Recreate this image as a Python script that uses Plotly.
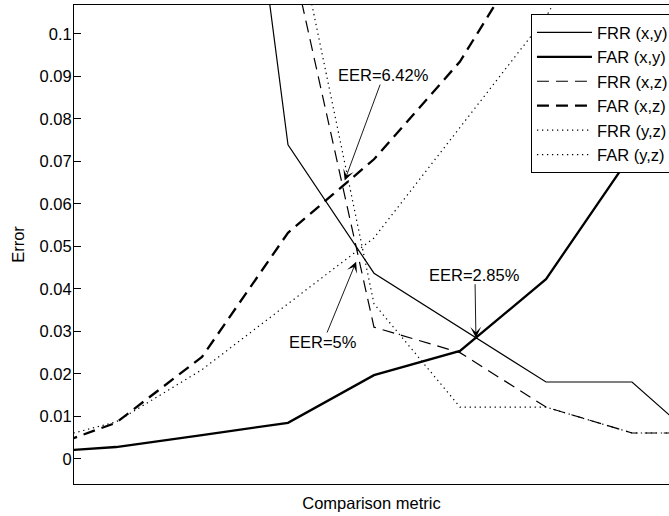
import plotly.graph_objects as go

# threshold index (x positions along the comparison-metric axis; no tick labels shown)
thresholds = [0, 1, 2, 3, 4, 5, 6, 7, 8]

frr_xy = [0.50, 0.38, 0.23, 0.0739, 0.0437, 0.0309, 0.0181, 0.0181, 0.0002]
far_xy = [0.0014, 0.0028, 0.0056, 0.0085, 0.0197, 0.0254, 0.0423, 0.0718, 0.11]
frr_xz = [0.40, 0.30, 0.20, 0.122, 0.031, 0.025, 0.0122, 0.0061, 0.0061]
far_xz = [0.0012, 0.0085, 0.024, 0.0532, 0.0705, 0.0935, 0.1263, 0.16, 0.20]
frr_yz = [0.45, 0.35, 0.25, 0.134, 0.0365, 0.0122, 0.0122, 0.0061, 0.0061]
far_yz = [0.0034, 0.0087, 0.021, 0.0365, 0.052, 0.078, 0.104, 0.14, 0.18]

series_names = ["FRR (x,y)", "FAR (x,y)", "FRR (x,z)", "FAR (x,z)", "FRR (y,z)", "FAR (y,z)"]

ytick_vals = [0, 0.01, 0.02, 0.03, 0.04, 0.05, 0.06, 0.07, 0.08, 0.09, 0.1]
ytick_text = ["0", "0.01", "0.02", "0.03", "0.04", "0.05", "0.06", "0.07", "0.08", "0.09", "0.1"]

eer_labels = ["EER=6.42%", "EER=2.85%", "EER=5%"]

FONT = "Liberation Sans, Arial, Helvetica, sans-serif"

styles = [
    dict(width=1.2, dash="solid"),
    dict(width=2.3, dash="solid"),
    dict(width=1.2, dash="12px,7px"),
    dict(width=2.3, dash="12px,7px"),
    dict(width=1.2, dash="1.3px,3.7px"),
    dict(width=1.2, dash="1.3px,3.7px"),
]
data = [frr_xy, far_xy, frr_xz, far_xz, frr_yz, far_yz]

fig = go.Figure()
for name, ys, st in zip(series_names, data, styles):
    fig.add_trace(go.Scatter(
        x=thresholds, y=ys, mode="lines", name=name,
        line=dict(color="black", width=st["width"], dash=st["dash"]),
        cliponaxis=True,
    ))


def crossing(a, b):
    for i in range(len(thresholds) - 1):
        d0 = a[i] - b[i]
        d1 = a[i + 1] - b[i + 1]
        if d0 * d1 <= 0 and d0 != d1:
            t = d0 / (d0 - d1)
            return thresholds[i] + t, a[i] + t * (a[i + 1] - a[i])
    return None

eer_points = [crossing(frr_xz, far_xz), crossing(frr_xy, far_xy), crossing(frr_yz, far_yz)]
offsets = [(41, -111, 6), (-1, -63, 0), (-39, 95, 16)]

for label, (px, py), (ax, ay, so) in zip(eer_labels, eer_points, offsets):
    fig.add_annotation(
        x=px, y=py, xref="x", yref="y", text=label, showarrow=True,
        ax=ax, ay=ay, axref="pixel", ayref="pixel",
        arrowhead=3, arrowsize=2.0, arrowwidth=0.9, arrowcolor="black",
        standoff=so, borderpad=0,
        font=dict(family=FONT, size=16.5, color="black"),
    )

fig.update_layout(
    width=669, height=516,
    margin=dict(l=74, r=0, t=5, b=32, autoexpand=False),
    paper_bgcolor="white", plot_bgcolor="white",
    font=dict(family=FONT, size=16.5, color="black"),
    showlegend=True,
    legend=dict(
        x=0.768, y=0.981, xanchor="left", yanchor="top",
        bgcolor="white", bordercolor="black", borderwidth=1,
        font=dict(family=FONT, size=16.5, color="black"),
        itemwidth=55, tracegroupgap=0,
    ),
    xaxis=dict(
        range=[0.512, 7.43], showgrid=False, zeroline=False,
        showticklabels=False, ticks="",
        showline=True, linecolor="black", linewidth=1, mirror=True,
        title=dict(text="Comparison metric", standoff=13,
                   font=dict(family=FONT, size=16.5, color="black")),
    ),
    yaxis=dict(
        range=[-0.0059, 0.1068], showgrid=False, zeroline=False,
        tickvals=ytick_vals, ticktext=ytick_text,
        ticks="inside", ticklen=7, tickcolor="black", tickwidth=1,
        ticklabelstandoff=-2,
        showline=True, linecolor="black", linewidth=1, mirror=False,
        tickfont=dict(family=FONT, size=16.5, color="black"),
        title=dict(text="Error", standoff=10,
                   font=dict(family=FONT, size=16.5, color="black")),
    ),
)

fig.write_html(
    "out.html",
    config={"displayModeBar": False},
    post_script="document.body.style.margin='0';document.body.style.overflow='hidden';",
)
